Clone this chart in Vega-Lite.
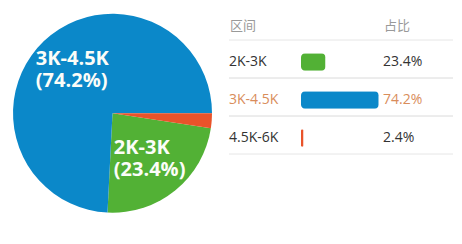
{
  "$schema": "https://vega.github.io/schema/vega-lite/v6.json",
  "padding": {"left": 13, "top": 13, "right": 10, "bottom": 32},
  "background": "white",
  "data": {"values": [
    {"range": "2K-3K", "share": 0.234},
    {"range": "3K-4.5K", "share": 0.742},
    {"range": "4.5K-6K", "share": 0.024}
  ]},
  "spacing": 16,
  "hconcat": [
    {
      "width": 199,
      "height": 146.4,
      "layer": [
        {
          "mark": {"type": "arc", "outerRadius": 99.5},
          "encoding": {
            "theta": {"field": "share", "type": "quantitative", "stack": true, "scale": {"range": [1.7216, 8.0048]}},
            "order": {"field": "range", "sort": "ascending"},
            "color": {"field": "range", "type": "nominal", "scale": {"domain": ["2K-3K", "3K-4.5K", "4.5K-6K"], "range": ["#52b135", "#0b88c9", "#e9532a"]}, "legend": null}
          }
        },
        {
          "mark": {"type": "text", "radius": 59, "align": "left", "baseline": "middle", "dx": -36, "dy": -11, "fontSize": 20, "fontWeight": "bold", "color": "#fbfdf8", "lineHeight": 22, "font": "Open Sans, Noto Sans CJK SC"},
          "encoding": {
            "theta": {"field": "share", "type": "quantitative", "stack": true},
            "order": {"field": "range", "sort": "ascending"},
            "detail": {"field": "range", "type": "nominal"},
            "text": {"value": {"expr": "[datum.range, '(' + format(datum.share, '.1%') + ')']"}},
            "opacity": {"condition": {"test": "datum.share < 0.05", "value": 0}, "value": 1}
          }
        }
      ]
    },
    {
      "spacing": 0,
      "bounds": "flush",
      "hconcat": [
        {
          "width": 72,
          "height": 114,
          "layer": [
            {
              "mark": {"type": "rule", "color": "#e6e6e6", "strokeWidth": 1},
              "encoding": {"y": {"field": "range", "type": "nominal", "sort": null, "bandPosition": 0, "axis": null, "scale": {"type": "band", "paddingInner": 0, "paddingOuter": 0}}}
            },
            {
              "mark": {"type": "rule", "color": "#e6e6e6", "strokeWidth": 1},
              "encoding": {"y": {"field": "range", "type": "nominal", "sort": null, "bandPosition": 1, "axis": null}}
            },
            {
              "mark": {"type": "text", "align": "left", "baseline": "middle", "dy": 3, "fontSize": 14, "font": "Open Sans, Noto Sans CJK SC"},
              "encoding": {
                "y": {"field": "range", "type": "nominal", "sort": null, "axis": null},
                "x": {"datum": "区间", "type": "nominal", "bandPosition": 0, "scale": {"type": "band", "paddingInner": 0, "paddingOuter": 0},
                  "axis": {"orient": "top", "title": null, "ticks": false, "tickSize": 0, "domain": false, "grid": false, "labelAngle": 0, "labelAlign": "left", "labelBaseline": "middle", "labelPadding": 15, "labelOffset": -35, "labelColor": "#999999", "labelFontSize": 13, "labelFont": "Noto Sans CJK SC", "minExtent": 26.3, "maxExtent": 26.3}},
                "text": {"field": "range"},
                "color": {"condition": {"test": "datum.range === '3K-4.5K'", "value": "#d98d5b"}, "value": "#333333"}
              }
            }
          ]
        },
        {
          "width": 82,
          "height": 114,
          "layer": [
            {
              "mark": {"type": "rule", "color": "#e6e6e6", "strokeWidth": 1},
              "encoding": {"y": {"field": "range", "type": "nominal", "sort": null, "bandPosition": 0, "axis": null, "scale": {"type": "band", "paddingInner": 0, "paddingOuter": 0}}}
            },
            {
              "mark": {"type": "rule", "color": "#e6e6e6", "strokeWidth": 1},
              "encoding": {"y": {"field": "range", "type": "nominal", "sort": null, "bandPosition": 1, "axis": null}}
            },
            {
              "mark": {"type": "bar", "cornerRadius": 4, "height": {"band": 0.46}, "yOffset": 3},
              "encoding": {
                "y": {"field": "range", "type": "nominal", "sort": null, "axis": null},
                "x": {"field": "share", "type": "quantitative", "scale": {"domain": [0, 0.783], "nice": false},
                  "axis": {"orient": "top", "title": null, "labels": false, "ticks": false, "grid": false, "domain": true, "domainOpacity": 0, "minExtent": 26.3, "maxExtent": 26.3}},
                "color": {"field": "range", "type": "nominal", "scale": {"domain": ["2K-3K", "3K-4.5K", "4.5K-6K"], "range": ["#52b135", "#0b88c9", "#e9532a"]}, "legend": null}
              }
            }
          ]
        },
        {
          "width": 70,
          "height": 114,
          "layer": [
            {
              "mark": {"type": "rule", "color": "#e6e6e6", "strokeWidth": 1},
              "encoding": {"y": {"field": "range", "type": "nominal", "sort": null, "bandPosition": 0, "axis": null, "scale": {"type": "band", "paddingInner": 0, "paddingOuter": 0}}}
            },
            {
              "mark": {"type": "rule", "color": "#e6e6e6", "strokeWidth": 1},
              "encoding": {"y": {"field": "range", "type": "nominal", "sort": null, "bandPosition": 1, "axis": null}}
            },
            {
              "mark": {"type": "text", "align": "left", "baseline": "middle", "dy": 3, "fontSize": 14, "font": "Open Sans, Noto Sans CJK SC"},
              "encoding": {
                "y": {"field": "range", "type": "nominal", "sort": null, "axis": null},
                "x": {"datum": "占比", "type": "nominal", "bandPosition": 0, "scale": {"type": "band", "paddingInner": 0, "paddingOuter": 0},
                  "axis": {"orient": "top", "title": null, "ticks": false, "tickSize": 0, "domain": false, "grid": false, "labelAngle": 0, "labelAlign": "left", "labelBaseline": "middle", "labelPadding": 15, "labelOffset": -34, "labelColor": "#999999", "labelFontSize": 13, "labelFont": "Noto Sans CJK SC", "minExtent": 26.3, "maxExtent": 26.3}},
                "text": {"field": "share", "type": "quantitative", "format": ".1%"},
                "color": {"condition": {"test": "datum.range === '3K-4.5K'", "value": "#d98d5b"}, "value": "#333333"}
              }
            }
          ]
        }
      ]
    }
  ],
  "config": {"view": {"stroke": null}, "font": "Open Sans, Noto Sans CJK SC"}
}
